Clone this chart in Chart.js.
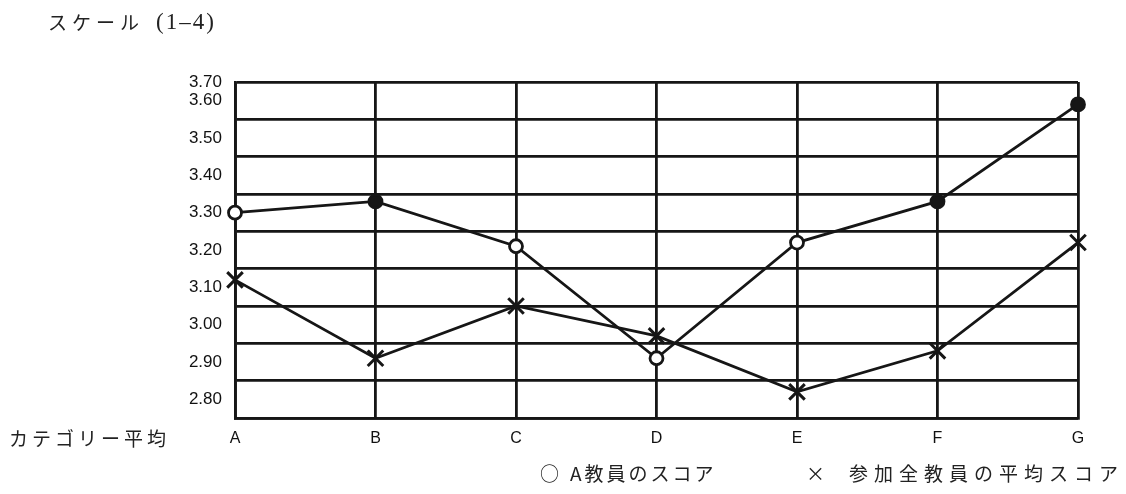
<!DOCTYPE html>
<html lang="ja">
<head>
<meta charset="utf-8">
<script src="https://cdn.jsdelivr.net/npm/chart.js@4.4.1/dist/chart.umd.min.js"></script>
<style>
  body { margin: 0; background: #fff; }
  #wrap { position: relative; width: 1126px; height: 494px; }
  .txt { position: absolute; font-family: "Noto Sans CJK JP", sans-serif; color: #222; font-size: 19px; line-height: 1; white-space: nowrap; }
  .num { font-family: "Liberation Serif", serif; font-size: 23px; letter-spacing: 2px; }
</style>
</head>
<body>
<div id="wrap">
  <canvas id="chart"></canvas>
  <div class="txt" style="left:48px; top:12px; letter-spacing:5px;">スケール</div>
  <div class="txt num" style="left:156px; top:10px;">(1–4)</div>
  <div class="txt" style="left:9px; top:428px; letter-spacing:4px;">カテゴリー平均</div>
  <div class="txt" style="left:540px; top:463px;">○</div>
  <div class="txt" style="left:570px; top:463px; letter-spacing:3px;">A教員のスコア</div>
  <div class="txt" style="left:806px; top:463px;">×</div>
  <div class="txt" style="left:849px; top:463px; letter-spacing:6px;">参加全教員の平均スコア</div>
</div>
<script>
// データ
const categories = ['A', 'B', 'C', 'D', 'E', 'F', 'G'];
const teacherA = [3.30, 3.33, 3.21, 2.91, 3.22, 3.33, 3.59];
const allTeachersAvg = [3.12, 2.91, 3.05, 2.97, 2.82, 2.93, 3.22];
const yTickLabels = ['2.80', '2.90', '3.00', '3.10', '3.20', '3.30', '3.40', '3.50', '3.60', '3.70'];

const yMin = 2.75;
const yMax = 3.65;
const ink = '#161616';

// 目盛りの値（0.05刻み）
function yTickValues() {
    const vals = [];
    for (let c = Math.round(yMin * 100); c <= Math.round(yMax * 100); c += 5) vals.push(c / 100);
    return vals;
}

// 0.x5 の位置にだけ横線を引く
function isGridValue(v) {
    return Math.round(v * 100) % 10 === 5;
}

// 0.x0 の位置にラベル、最上段に 3.70
function tickLabel(v) {
    const c = Math.round(v * 100);
    if (c === Math.round(yMax * 100)) return yTickLabels[yTickLabels.length - 1];
    if (c % 10 !== 0) return '';
    return yTickLabels[(c - 280) / 10] || '';
}

const ctx = document.getElementById('chart');
new Chart(ctx, {
    type: 'line',
    data: {
        labels: categories,
        datasets: [{
            label: 'A教員のスコア',
            data: teacherA,
            borderColor: ink,
            borderWidth: 2.8,
            pointStyle: 'circle',
            pointRadius: 6.5,
            pointBorderWidth: 2.8,
            pointBorderColor: ink,
            pointBackgroundColor: ['#fff', ink, '#fff', '#fff', '#fff', ink, ink],
            tension: 0
        }, {
            label: '参加全教員の平均スコア',
            data: allTeachersAvg,
            borderColor: ink,
            borderWidth: 2.8,
            pointStyle: 'crossRot',
            pointRadius: 11,
            pointBorderWidth: 3,
            pointBorderColor: ink,
            tension: 0
        }]
    },
    options: {
        responsive: true,
        maintainAspectRatio: false,
        animation: false,
        layout: { padding: { top: 82, right: 48, left: 0, bottom: 0 } },
        plugins: {
            legend: { display: false },
            tooltip: { enabled: false }
        },
        scales: {
            x: {
                offset: false,
                grid: { color: ink, lineWidth: 2.8, drawTicks: false },
                border: { color: ink, width: 2.8 },
                ticks: {
                    color: '#111',
                    padding: 11,
                    font: { family: 'Liberation Sans', size: 16 }
                },
                afterFit: function(scale) { scale.height = 76; }
            },
            y: {
                min: yMin,
                max: yMax,
                afterBuildTicks: function(scale) {
                    scale.ticks = yTickValues().map(v => ({ value: v }));
                },
                grid: {
                    drawTicks: false,
                    lineWidth: 2.8,
                    color: function(c) { return isGridValue(c.tick.value) ? ink : 'rgba(0,0,0,0)'; }
                },
                border: { color: ink, width: 2.8 },
                ticks: {
                    autoSkip: false,
                    color: '#111',
                    padding: 13,
                    font: { family: 'Liberation Sans', size: 17 },
                    callback: function(v) { return tickLabel(v); }
                },
                afterFit: function(scale) { scale.width = 235; }
            }
        }
    }
});
</script>
</body>
</html>
